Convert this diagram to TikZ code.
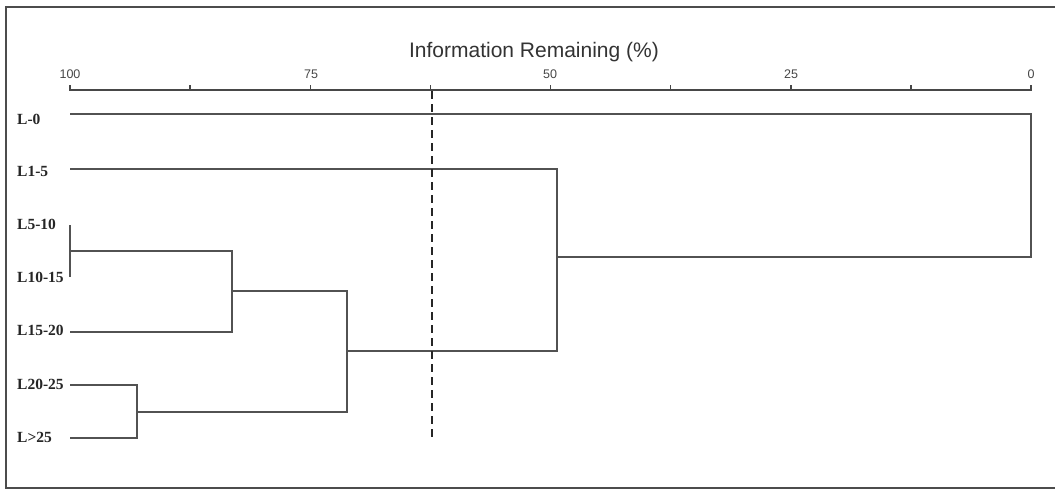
\documentclass[tikz,border=0pt]{standalone}
\usepackage{fontspec}
\usetikzlibrary{calc}
\setmainfont{Liberation Serif}
\newfontfamily\axisfont{Liberation Sans}
\begin{document}
\begin{tikzpicture}[x=1pt,y=-1pt,
  tree/.style={draw=black!68, line width=1.3pt},
  axisline/.style={draw=black!72, line width=1.8pt},
  cutline/.style={draw=black!85, line width=2pt, dash pattern=on 8pt off 5pt},
  frameline/.style={draw=black!70, line width=2.2pt},
  leaflab/.style={font=\bfseries\fontsize{15.5}{17}\selectfont, text=black!85, anchor=west, inner sep=0pt},
  ticklab/.style={font=\axisfont\fontsize{12.5}{14}\selectfont, text=black!72, inner sep=0pt},
  titlelab/.style={font=\axisfont\fontsize{21}{23}\selectfont, text=black!80, inner sep=0pt}]
\useasboundingbox (0,0) rectangle (1055,493);
\fill[white] (0,0) rectangle (1055,493);
% frame
\coordinate (fTR) at (1060,7);
\coordinate (fTL) at (6,7);
\coordinate (fBL) at (6,488);
\coordinate (fBR) at (1060,488);
\draw[frameline] (fTR) -- (fTL) -- (fBL) -- (fBR);
% title and axis
\node[titlelab] (title) at (534,52) {Information Remaining (\%)};
\coordinate (a100) at (70,90);
\coordinate (a0) at (1031,90);
\draw[axisline] (a100) -- (a0);
\foreach \i in {0,...,8} {
  \coordinate (t\i) at ({70+\i*120.125},90);
  \draw[axisline, line width=1.5pt] ($(t\i)+(0,-5)$) -- ($(t\i)+(0,1)$);
}
\node[ticklab] (l100) at (70,74) {100};
\node[ticklab] (l75) at (311,74) {75};
\node[ticklab] (l50) at (550,74) {50};
\node[ticklab] (l25) at (791,74) {25};
\node[ticklab] (l0) at (1031,74) {0};
% leaf labels
\node[leaflab] (n0) at (17,119) {L-0};
\node[leaflab] (n1) at (17,171) {L1-5};
\node[leaflab] (n2) at (17,224) {L5-10};
\node[leaflab] (n3) at (17,277) {L10-15};
\node[leaflab] (n4) at (17,330) {L15-20};
\node[leaflab] (n5) at (17,384) {L20-25};
\node[leaflab] (n6) at (17,437) {L>25};
% leaf line starts
\coordinate (s0) at (70,114);
\coordinate (s1) at (70,169);
\coordinate (s2) at (70,225);
\coordinate (s3) at (70,277);
\coordinate (s23) at (70,251);
\coordinate (s4) at (70,332);
\coordinate (s5) at (70,385);
\coordinate (s6) at (70,438);
% merges
\coordinate (m56t) at (137,385);
\coordinate (m56b) at (137,438);
\coordinate (m56) at (137,412);
\coordinate (m234t) at (232,251);
\coordinate (m234b) at (232,332);
\coordinate (m234) at (232,291);
\coordinate (mAt) at (347,291);
\coordinate (mAb) at (347,412);
\coordinate (mA) at (347,351);
\coordinate (mBt) at (557,169);
\coordinate (mBb) at (557,351);
\coordinate (mB) at (557,257);
\coordinate (mCt) at (1031,114);
\coordinate (mCb) at (1031,257);
% tree
\draw[tree] (s2) -- (s3);
\draw[tree] (s23) -- (m234t) -- (m234b) -- (s4);
\draw[tree] (s5) -- (m56t) -- (m56b) -- (s6);
\draw[tree] (m234) -- (mAt) -- (mAb) -- (m56);
\draw[tree] (s1) -- (mBt) -- (mBb) -- (mA);
\draw[tree] (s0) -- (mCt) -- (mCb) -- (mB);
% cut line
\coordinate (cTop) at (432,91);
\coordinate (cBot) at (432,437);
\draw[cutline] (cTop) -- (cBot);
\end{tikzpicture}
\end{document}
